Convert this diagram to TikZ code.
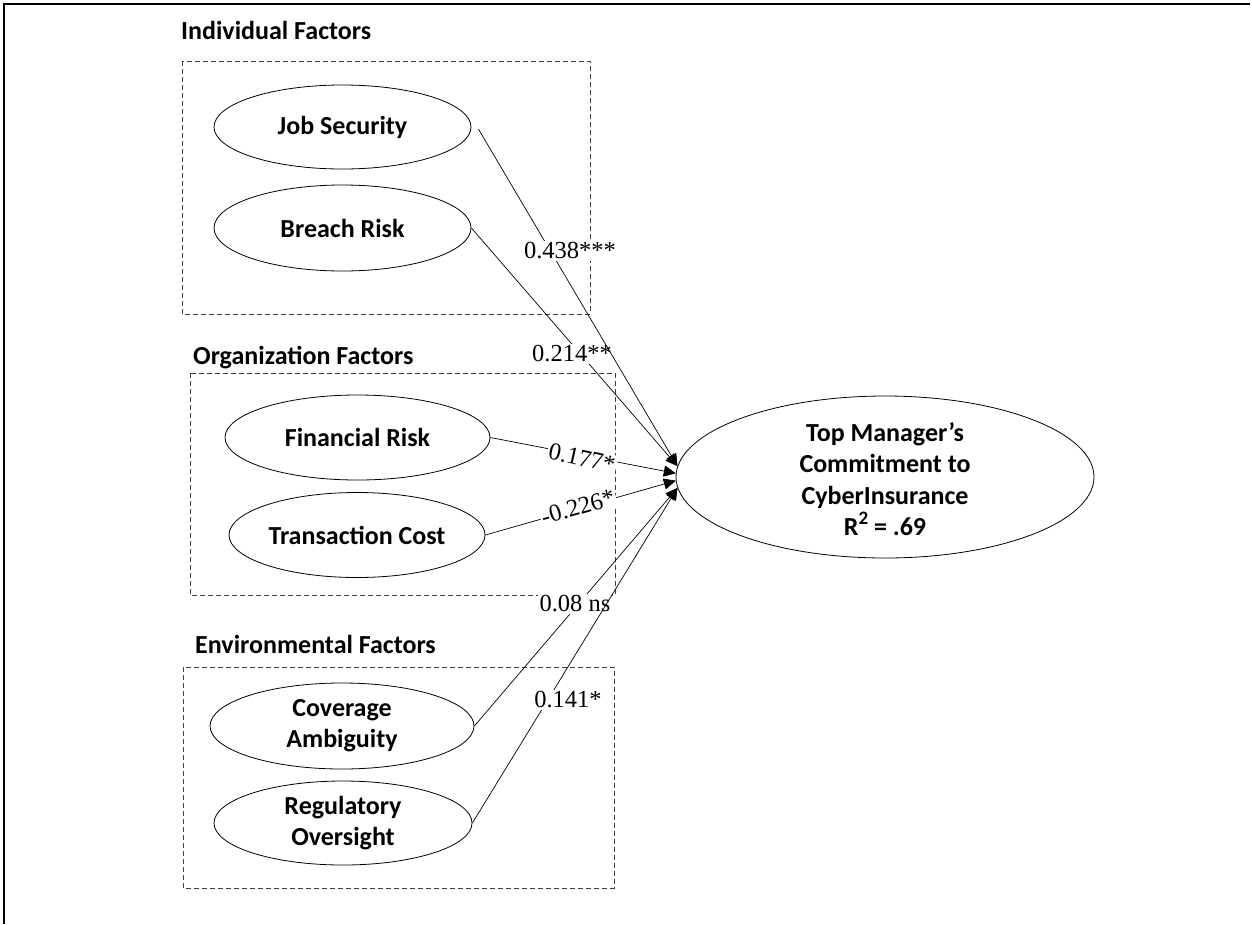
\documentclass[tikz,border=0pt]{standalone}
\usepackage{fontspec}
\setmainfont{Liberation Serif}
\newfontfamily\lblfont{Carlito}
\usetikzlibrary{arrows.meta,shapes.geometric}

\begin{document}
\begin{tikzpicture}[x=1pt,y=-1pt,
  latent/.style={draw, ellipse, line width=0.8pt, inner sep=0pt, align=center,
    font=\lblfont\bfseries\fontsize{26}{31}\selectfont},
  grouptitle/.style={anchor=base west, inner sep=0pt,
    font=\lblfont\bfseries\fontsize{26}{31}\selectfont},
  groupbox/.style={draw=black!75, dash pattern=on 5pt off 3pt, line width=0.9pt},
  effect/.style={line width=0.7pt, -{Triangle[length=12pt,width=11pt]}},
  coef/.style={fill=white, inner sep=1.5pt, font=\fontsize{24.5}{26}\selectfont}]
\useasboundingbox (0,0) rectangle (1252,924);

% frame
\draw[line width=1.8pt] (4,924) -- (4,4) -- (1250,4);

% construct groups
\node[grouptitle] (tind) at (181,39) {Individual Factors};
\draw[groupbox] (182,61) rectangle (590,314);
\node[grouptitle] (torg) at (193,364) {Organization Factors};
\draw[groupbox] (190,373) rectangle (615,595);
\node[grouptitle] (tenv) at (195,653) {Environmental Factors};
\draw[groupbox] (183,667) rectangle (614,888);

% latent constructs
\node[latent, minimum width=257pt, minimum height=84pt] (js) at (342.5,127) {Job Security};
\node[latent, minimum width=257pt, minimum height=86pt] (br) at (342.5,228) {Breach Risk};
\node[latent, minimum width=265pt, minimum height=85pt] (fr) at (357.5,437.5) {Financial Risk};
\node[latent, minimum width=256pt, minimum height=85pt] (tc) at (357,535) {Transaction Cost};
\node[latent, minimum width=264pt, minimum height=86pt] (ca) at (342,726) {Coverage\\Ambiguity};
\node[latent, minimum width=258pt, minimum height=84pt] (ro) at (343,823) {Regulatory\\Oversight};

% outcome
\node[draw, ellipse, line width=0.8pt, minimum width=418pt, minimum height=162pt] (tgt) at (885,477) {};
\node[align=center, inner sep=0pt, font=\lblfont\bfseries\fontsize{26}{31.5}\selectfont] (tgtlbl) at (885,479)
  {Top Manager’s\\Commitment to\\CyberInsurance\\R\raisebox{0.42em}{\fontsize{19}{19}\selectfont 2} = .69};

% paths
\draw[effect] (br.east) -- (tgt.177.8);
\node[coef] (cbr) at (572,354) {0.214**};
\draw[effect] ([xshift=7pt,yshift=-2pt]js.east) -- (tgt.177);
\node[coef] (cjs) at (570,251) {0.438***};
\draw[effect] (fr.east) -- (tgt.179.7);
\node[coef, rotate=-12.6] (cfr) at (582,458) {0.177*};
\draw[effect] (tc.east) -- (tgt.181.4);
\node[coef, rotate=16] (ctc) at (578,507) {-0.226*};
\draw[effect] (ca.east) -- (tgt.183);
\node[coef] (cca) at (575,604) {0.08 ns};
\draw[effect] (ro.east) -- (tgt.183.9);
\node[coef] (cro) at (568,700) {0.141*};
\end{tikzpicture}
\end{document}
